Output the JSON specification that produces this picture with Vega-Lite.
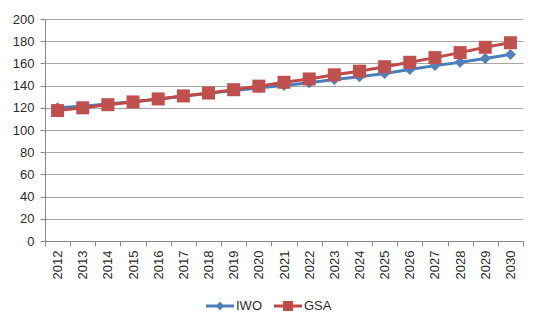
{
  "$schema": "https://vega.github.io/schema/vega-lite/v6.json",
  "width": 478,
  "height": 222,
  "autosize": {"type": "none"},
  "padding": {"left": 45, "top": 19, "right": 16, "bottom": 83},
  "background": "white",
  "config": {
    "view": {"stroke": null},
    "font": "Liberation Sans",
    "axis": {"labelFont": "Liberation Sans", "labelColor": "#2b2b2b", "labelFontSize": 13, "domainColor": "#888888", "tickColor": "#888888", "gridColor": "#A6A6A6", "title": null}
  },
  "data": {"values": [
    {"year": "2012", "series": "IWO", "value": 120},
    {"year": "2013", "series": "IWO", "value": 121.5},
    {"year": "2014", "series": "IWO", "value": 123.5},
    {"year": "2015", "series": "IWO", "value": 125.5},
    {"year": "2016", "series": "IWO", "value": 128},
    {"year": "2017", "series": "IWO", "value": 130.5},
    {"year": "2018", "series": "IWO", "value": 133},
    {"year": "2019", "series": "IWO", "value": 135.5},
    {"year": "2020", "series": "IWO", "value": 138},
    {"year": "2021", "series": "IWO", "value": 140},
    {"year": "2022", "series": "IWO", "value": 142.5},
    {"year": "2023", "series": "IWO", "value": 145.5},
    {"year": "2024", "series": "IWO", "value": 148},
    {"year": "2025", "series": "IWO", "value": 151},
    {"year": "2026", "series": "IWO", "value": 154.5},
    {"year": "2027", "series": "IWO", "value": 158},
    {"year": "2028", "series": "IWO", "value": 161},
    {"year": "2029", "series": "IWO", "value": 164.5},
    {"year": "2030", "series": "IWO", "value": 168},
    {"year": "2012", "series": "GSA", "value": 117.5},
    {"year": "2013", "series": "GSA", "value": 120},
    {"year": "2014", "series": "GSA", "value": 122.8},
    {"year": "2015", "series": "GSA", "value": 125.3},
    {"year": "2016", "series": "GSA", "value": 128},
    {"year": "2017", "series": "GSA", "value": 130.7},
    {"year": "2018", "series": "GSA", "value": 133.3},
    {"year": "2019", "series": "GSA", "value": 136.3},
    {"year": "2020", "series": "GSA", "value": 139.5},
    {"year": "2021", "series": "GSA", "value": 143},
    {"year": "2022", "series": "GSA", "value": 146},
    {"year": "2023", "series": "GSA", "value": 149.7},
    {"year": "2024", "series": "GSA", "value": 153},
    {"year": "2025", "series": "GSA", "value": 157},
    {"year": "2026", "series": "GSA", "value": 161},
    {"year": "2027", "series": "GSA", "value": 165.2},
    {"year": "2028", "series": "GSA", "value": 169.7},
    {"year": "2029", "series": "GSA", "value": 174.5},
    {"year": "2030", "series": "GSA", "value": 178.6}
  ]},
  "encoding": {
    "x": {"field": "year", "type": "ordinal", "scale": {"type": "band", "paddingInner": 0, "paddingOuter": 0},
      "axis": {"labelAngle": -90, "tickBand": "extent", "tickSize": 5, "labelPadding": 4, "grid": false}},
    "y": {"field": "value", "type": "quantitative", "scale": {"domain": [0, 200], "nice": false},
      "axis": {"values": [0,20,40,60,80,100,120,140,160,180,200], "tickSize": 5, "labelPadding": 6, "grid": true}}
  },
  "layer": [
    {
      "mark": {"type": "line", "strokeWidth": 3},
      "encoding": {
        "color": {"field": "series", "type": "nominal", "scale": {"domain": ["IWO", "GSA"], "range": ["#4A7EBB", "#BE4B48"]}},
        "order": {"field": "year"}
      }
    },
    {
      "transform": [{"filter": "datum.series === 'IWO'"}],
      "mark": {"type": "point", "shape": "diamond", "filled": true, "size": 121, "opacity": 1, "color": "#4F81BD"}
    },
    {
      "transform": [{"filter": "datum.series === 'GSA'"}],
      "mark": {"type": "point", "shape": "square", "filled": true, "size": 169, "opacity": 1, "color": "#C0504D"}
    },
    {
      "transform": [{"filter": "false"}],
      "mark": {"type": "point", "filled": true, "opacity": 1, "size": 784},
      "encoding": {
        "color": {"field": "series", "type": "nominal", "legend": {"orient": "none", "legendX": 161, "legendY": 273, "direction": "horizontal", "title": null, "symbolOpacity": 1, "symbolSize": 784, "symbolStrokeWidth": 0, "labelFontSize": 13, "labelFont": "Liberation Sans", "labelColor": "#2b2b2b", "columnPadding": 12, "labelOffset": 2}},
        "shape": {"field": "series", "type": "nominal", "scale": {"domain": ["IWO", "GSA"], "range": ["M-1,-0.1H1V0.1H-1Z M0,-0.3L0.3,0L0,0.3L-0.3,0Z", "M-1,-0.1H1V0.1H-1Z M-0.36,-0.36H0.36V0.36H-0.36Z"]}, "legend": {"orient": "none", "legendX": 161, "legendY": 273, "direction": "horizontal", "title": null}}
      }
    }
  ]
}
